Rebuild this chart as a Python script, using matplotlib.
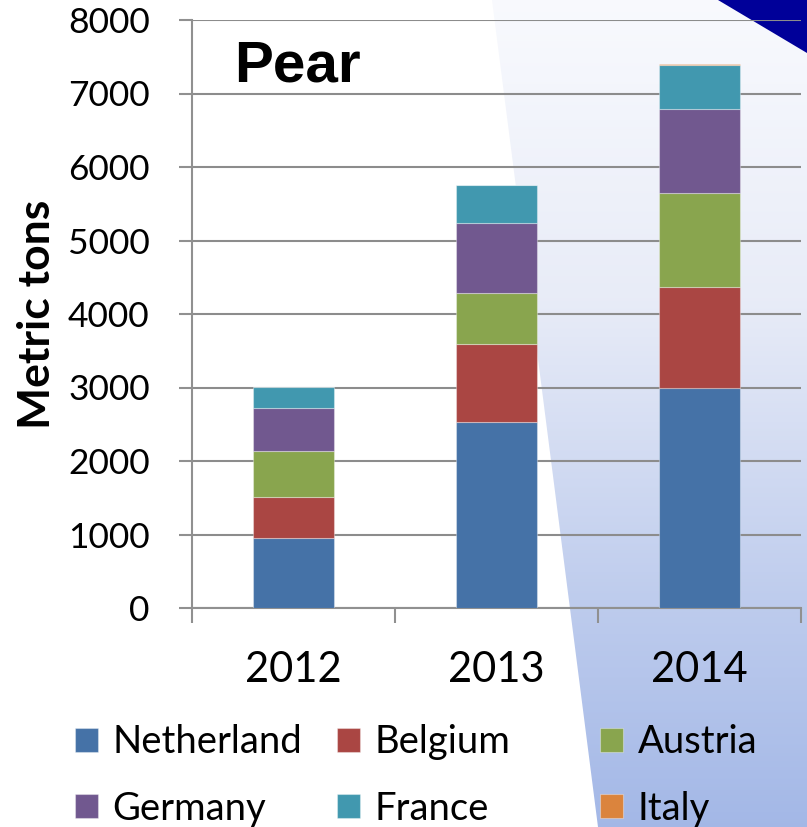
import numpy as np
import matplotlib
matplotlib.use("Agg")
import matplotlib.pyplot as plt
from matplotlib.patches import Polygon

# ---------------- data ----------------
years = ["2012", "2013", "2014"]
countries = ["Netherland", "Belgium", "Austria", "Germany", "France", "Italy"]
netherland = [948, 2531, 2993]
belgium = [566, 1057, 1370]
austria = [622, 694, 1279]
germany = [589, 960, 1143]
france = [285, 513, 603]
italy = [0, 0, 15]
series = [netherland, belgium, austria, germany, france, italy]
colors = ["#4572A7", "#AA4643", "#89A54E", "#71588F", "#4198AF", "#DB843D"]
yticks = [0, 1000, 2000, 3000, 4000, 5000, 6000, 7000, 8000]

W, H = 807, 827
fig = plt.figure(figsize=(W / 100, H / 100), dpi=100)
fig.patch.set_facecolor("white")

# ---------------- background decoration ----------------
bg = fig.add_axes([0, 0, 1, 1], zorder=-10)
bg.set_xlim(0, W)
bg.set_ylim(H, 0)
bg.axis("off")
ys = np.arange(H)
stops_y = [0, 300, 600, 827]
stops_c = np.array([[0.975, 0.980, 0.995],
                    [0.910, 0.925, 0.970],
                    [0.745, 0.800, 0.930],
                    [0.640, 0.720, 0.905]])
grad = np.stack([np.interp(ys, stops_y, stops_c[:, i]) for i in range(3)], axis=1)
img = np.repeat(grad[:, None, :], 2, axis=1)
im = bg.imshow(img, extent=[0, W, H, 0], aspect="auto", interpolation="bilinear")
poly = Polygon([(492, 0), (W, 0), (W, H), (598, H)], closed=True,
               transform=bg.transData, facecolor="none", edgecolor="none")
bg.add_patch(poly)
im.set_clip_path(poly)
bg.add_patch(Polygon([(718, 0), (W, 0), (W, 53)], closed=True,
                     facecolor="#000099", edgecolor="none"))

# ---------------- main chart ----------------
ax = fig.add_axes([192 / W, 1 - 608 / H, (800.7 - 192) / W, (608 - 20) / H])
ax.patch.set_alpha(0)
x = np.arange(len(years))
bottom = np.zeros(len(years))
containers = []
for name, vals, col in zip(countries, series, colors):
    c = ax.bar(x, vals, width=0.40, bottom=bottom, color=col, label=name,
               edgecolor=(1, 1, 1, 0.35), linewidth=0.8, zorder=3)
    containers.append(c)
    bottom += np.array(vals)

ax.set_xlim(-0.5, len(years) - 0.5)
ax.set_ylim(0, 8000)
ax.set_yticks(yticks)
ax.set_yticklabels([str(v) for v in yticks], fontsize=25.5, family="Lato")
ax.set_xticks(x)
ax.set_xticklabels(years, fontsize=30, family="Lato")
ax.set_xticks(np.arange(-0.5, len(years)), minor=True)
ax.tick_params(axis="x", which="major", length=0, pad=31)
ax.tick_params(axis="x", which="minor", length=10.5, width=1.5, color="#909090", direction="out")
ax.tick_params(axis="y", which="major", length=9.5, width=1.5, color="#909090",
               direction="out", pad=21)
ax.grid(axis="y", color="#8c8c8c", linewidth=1.5, zorder=0)
ax.set_axisbelow(True)
for s in ["top", "right"]:
    ax.spines[s].set_visible(False)
for s in ["left", "bottom"]:
    ax.spines[s].set_color("#909090")
    ax.spines[s].set_linewidth(1.5)

ax.set_ylabel("Metric tons", fontsize=32, fontweight="bold", family="Lato", va="center")
ax.yaxis.set_label_coords((37 - 192) / (800.7 - 192), 0.5)

ax.text((297 - 192) / (800.7 - 192), (608 - 82) / 588, "Pear", transform=ax.transAxes,
        ha="center", va="baseline", fontsize=42, fontweight="bold",
        family="Liberation Sans", zorder=5)

# ---------------- legend (3 columns, row-major) ----------------
col_x = [75, 337, 600]
for ci in range(3):
    hs = [containers[ci], containers[ci + 3]]
    ls = [countries[ci], countries[ci + 3]]
    lg = fig.legend(hs, ls, loc="center left",
                    bbox_to_anchor=(col_x[ci] / W, 1 - 775.5 / H),
                    frameon=False, prop={"family": "Lato", "size": 27.5},
                    handlelength=0.6, handleheight=0.6, handletextpad=0.38,
                    labelspacing=0.8, borderpad=0, borderaxespad=0)

fig.savefig("out.png", dpi=100)
